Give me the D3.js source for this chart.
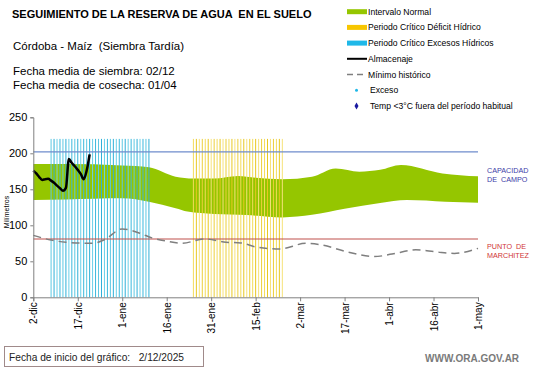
<!DOCTYPE html>
<html><head><meta charset="utf-8">
<script src="https://cdn.jsdelivr.net/npm/d3@7"></script>
<style>body{margin:0;background:#fff}svg{display:block}text{font-family:"Liberation Sans",Arial,sans-serif}</style>
</head><body>
<svg id="c" width="541" height="368"></svg>
<script>
// ---- data ----
const startDate = "2025-12-02";
const endDate = "2026-05-01";
const tickLabels = ["2-dic","17-dic","1-ene","16-ene","31-ene","15-feb","2-mar","17-mar","1-abr","16-abr","1-may"];
const yTicks = [0,50,100,150,200,250];
// green band (Intervalo Normal), day offsets from start
const bandUpperDays = [0,11,30,39,48,54,61,69,75,84,94,102,110,117,124,138,150];
const bandUpper     = [185,185,183,180.5,167.5,165,165,168.5,166,164,167.5,179,174.5,177,183.8,172,168];
const bandLowerDays = [0,11,30,39,48,52,61,72,84,94,105,117,126,139,150];
const bandLower     = [135,136,137.5,132.8,123.6,119,115.7,114.3,111,114.5,123,131,135,132.8,131.4];
// Mínimo histórico
const minDays = [0,6,11,20,24,30,36,40,45,50,58,65,70,75,83,92,97,106,115,121,129,136,142,150];
const minVals = [86,79.5,76.5,75,80,95,89,82.5,78,75,81,76.5,75.5,70,67,75,73,63,56.5,60,66,63,61,68];
// Almacenaje (daily)
const almDays = [0,1,2,3,4,5,6,7,8,9,10,11,12,13,14,15,16,17,18,19];
const almVals = [176,172,167,163,164,164.5,162,159,155,151.5,148,152,192,186.5,182,177,171.5,164,176,198.5];
// critical periods (day offsets)
const excesoPeriod = [6,39];
const deficitPeriod = [54,84];
const periodTop = 220;
const capacidadCampo = 202;
const puntoMarchitez = 81;

// ---- drawing ----
const svg = d3.select("#c");
const t0 = new Date(startDate+"T00:00:00Z");
const dayDate = d => new Date(t0.getTime() + d*86400000);
const x = d3.scaleUtc().domain([t0, new Date(endDate+"T00:00:00Z")]).range([33.3, 478]);
const y = d3.scaleLinear().domain([0,250]).range([297.3,117.3]);

// band
const bandPts = bandUpperDays.map((d,i)=>({d, u:bandUpper[i]}));
const up = d3.line().x(p=>x(dayDate(p.d))).y(p=>y(p.u)).curve(d3.curveMonotoneX)(bandPts);
const loPts = bandLowerDays.map((d,i)=>({d, v:bandLower[i]})).reverse();
const lo = d3.line().x(p=>x(dayDate(p.d))).y(p=>y(p.v)).curve(d3.curveMonotoneX)(loPts);
svg.append("path").attr("d", up + "L" + lo.slice(1) + "Z").attr("fill","#95c600");

// critical period lines
function periodLines(range, colors){
  const days = d3.range(range[0], range[1]+1);
  svg.append("g").selectAll("line").data(days).join("line")
    .attr("x1", d=>x(dayDate(d))).attr("x2", d=>x(dayDate(d)))
    .attr("y1", y(0)).attr("y2", y(periodTop))
    .attr("stroke", (d,i)=>colors[i%colors.length]).attr("stroke-width",1);
}
periodLines(excesoPeriod, ["#5cc8e2","#2fb0d8","#6ad0e8","#3ab8dc"]);
periodLines(deficitPeriod, ["#f3dc5a","#e8c820","#f6e27a","#eccf3a"]);

// reference lines
svg.append("line").attr("x1",x.range()[0]).attr("x2",x.range()[1]).attr("y1",y(capacidadCampo)).attr("y2",y(capacidadCampo)).attr("stroke","#6f8ccc").attr("stroke-width",1.2);
svg.append("line").attr("x1",x.range()[0]).attr("x2",x.range()[1]).attr("y1",y(puntoMarchitez)).attr("y2",y(puntoMarchitez)).attr("stroke","#c0504d").attr("stroke-width",1.2);

// minimo historico
svg.append("path").datum(minDays.map((d,i)=>({d,v:minVals[i]})))
  .attr("d", d3.line().x(p=>x(dayDate(p.d))).y(p=>y(p.v)).curve(d3.curveMonotoneX))
  .attr("fill","none").attr("stroke","#7f7f7f").attr("stroke-width",1.5).attr("stroke-dasharray","8,5");

// almacenaje
svg.append("path").datum(almDays.map((d,i)=>({d,v:almVals[i]})))
  .attr("d", d3.line().x(p=>x(dayDate(p.d))).y(p=>y(p.v)).curve(d3.curveMonotoneX))
  .attr("fill","none").attr("stroke","#000").attr("stroke-width",2.5).attr("stroke-linejoin","round");

// axes
const tickDates = d3.range(tickLabels.length).map(i=>dayDate(i*15));
const xAxis = svg.append("g").attr("transform",`translate(0,${y(0)})`)
  .call(d3.axisBottom(x).tickValues(tickDates).tickFormat((d,i)=>tickLabels[i]).tickSizeOuter(0).tickSize(4));
xAxis.select(".domain").attr("stroke","#808080");
xAxis.selectAll(".tick line").attr("stroke","#808080");
xAxis.selectAll("text").attr("transform","rotate(-90)").attr("text-anchor","end")
  .attr("x",-5).attr("y",0).attr("dy","0.35em").attr("font-size",10).attr("fill","#000").attr("font-family","Liberation Sans, Arial");

const yAxis = svg.append("g").attr("transform",`translate(${x.range()[0]},0)`)
  .call(d3.axisLeft(y).tickValues(yTicks).tickSizeOuter(0).tickSize(3));
yAxis.select(".domain").attr("stroke","#808080");
yAxis.selectAll(".tick line").attr("stroke","#808080");
yAxis.selectAll("text").attr("font-size",11).attr("fill","#000").attr("x",-6).attr("font-family","Liberation Sans, Arial");

svg.append("text").attr("transform","translate(9,212) rotate(-90)").attr("text-anchor","middle")
  .attr("font-size",7).attr("fill","#000").text("Milímetros");

// right labels
const rl = svg.append("g").attr("font-size",7.2);
rl.append("text").attr("x",487).attr("y",173).attr("fill","#3c3ca8").text("CAPACIDAD");
rl.append("text").attr("x",487).attr("y",181.5).attr("fill","#3c3ca8").style("white-space","pre").text("DE  CAMPO");
rl.append("text").attr("x",487).attr("y",249).attr("fill","#d03535").style("white-space","pre").text("PUNTO  DE");
rl.append("text").attr("x",487).attr("y",257.5).attr("fill","#d03535").text("MARCHITEZ");

// titles
svg.append("text").attr("x",12).attr("y",18).attr("font-weight","bold").attr("font-size",11).attr("fill","#000")
  .style("white-space","pre").text("SEGUIMIENTO DE LA RESERVA DE AGUA  EN EL SUELO");
svg.append("text").attr("x",13).attr("y",50).attr("font-size",11.5).attr("fill","#000").style("white-space","pre").text("Córdoba - Maíz  (Siembra Tardía)");
svg.append("text").attr("x",13).attr("y",75).attr("font-size",11.5).attr("fill","#000").text("Fecha media de siembra: 02/12");
svg.append("text").attr("x",13).attr("y",88.5).attr("font-size",11.5).attr("fill","#000").text("Fecha media de cosecha: 01/04");

// legend
const legendLabels = ["Intervalo Normal","Periodo Crítico Déficit Hídrico","Periodo Crítico Excesos Hídricos","Almacenaje","Mínimo histórico","Exceso","Temp <3°C fuera del período habitual"];
const lg = svg.append("g").attr("font-size",8.6).attr("fill","#000");
const ly = i => 11.7 + i*15.7;
lg.append("rect").attr("x",347).attr("y",ly(0)-2.5).attr("width",20).attr("height",5).attr("fill","#95c600");
lg.append("rect").attr("x",347).attr("y",ly(1)-2.5).attr("width",20).attr("height",5).attr("fill","#f7c600");
lg.append("rect").attr("x",347).attr("y",ly(2)-2.5).attr("width",20).attr("height",5).attr("fill","#1fb8e8");
lg.append("line").attr("x1",347).attr("x2",367).attr("y1",ly(3)).attr("y2",ly(3)).attr("stroke","#000").attr("stroke-width",2);
lg.append("line").attr("x1",347).attr("x2",367).attr("y1",ly(4)).attr("y2",ly(4)).attr("stroke","#7f7f7f").attr("stroke-width",1.5).attr("stroke-dasharray","6,4");
lg.append("circle").attr("cx",356.5).attr("cy",ly(5)).attr("r",1.5).attr("fill","#1fb8e8");
lg.append("path").attr("d",d3.symbol(d3.symbolDiamond,14)()).attr("transform",`translate(356.5,${ly(6)})`).attr("fill","#1a1aa0");
lg.selectAll("text.l").data(legendLabels).join("text").attr("class","l")
  .attr("x", (d,i)=> i>=5 ? 370 : 368).attr("y",(d,i)=>ly(i)+3).text(d=>d);

// footer
svg.append("rect").attr("x",4.5).attr("y",346.5).attr("width",199).attr("height",20).attr("fill","#fff").attr("stroke","#a08a8a");
svg.append("text").attr("x",9).attr("y",360.5).attr("font-size",10.2).attr("fill","#222").attr("font-family","Lato, 'Liberation Sans', sans-serif").style("white-space","pre").text("Fecha de inicio del gráfico:   2/12/2025");
svg.append("text").attr("x",425).attr("y",362).attr("font-size",10).attr("font-weight","bold").attr("fill","#7a7a7a").text("WWW.ORA.GOV.AR");
</script>
</body></html>
